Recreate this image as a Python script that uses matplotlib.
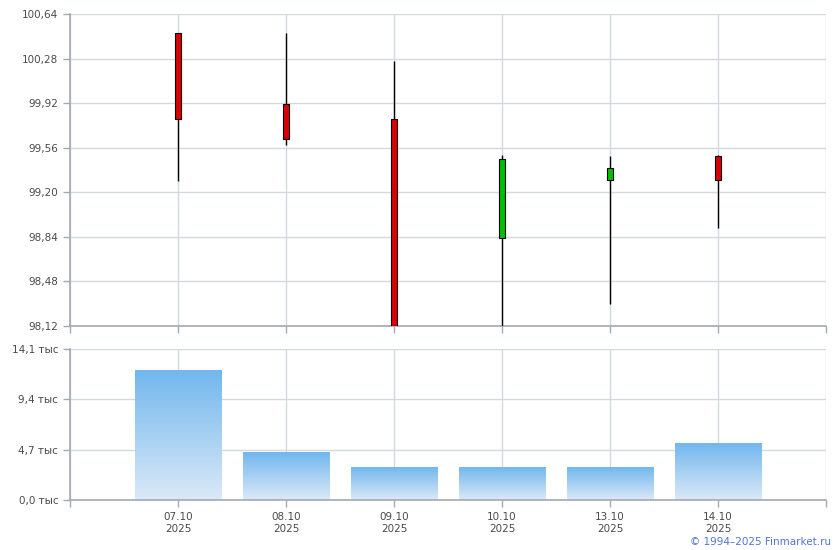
import numpy as np
import matplotlib.pyplot as plt
from matplotlib.patches import Rectangle

# данные (дневные свечи и объём, тыс.)
dates = ["07.10\n2025", "08.10\n2025", "09.10\n2025", "10.10\n2025", "13.10\n2025", "14.10\n2025"]
open_ = [100.49, 99.91, 99.79, 98.83, 99.30, 99.49]
close = [99.79, 99.63, 98.12, 99.47, 99.40, 99.30]
high = [100.49, 100.49, 100.26, 99.50, 99.49, 99.50]
low = [99.29, 99.58, 98.12, 98.12, 98.30, 98.91]
volume = [12.05, 4.48, 2.99, 3.08, 2.99, 5.32]

price_ticks = [98.12, 98.48, 98.84, 99.20, 99.56, 99.92, 100.28, 100.64]
vol_ticks = [0.0, 4.7, 9.4, 14.1]

GRID = "#d3d9df"
SPINE = "#a3a9b1"
TXT = "#4a4a4a"

plt.rcParams['font.family'] = ['DejaVu Sans']
fig = plt.figure(figsize=(8.4, 5.5), dpi=100)
ax1 = fig.add_axes([70 / 840, 1 - 326 / 550, 756 / 840, 312 / 550])
ax2 = fig.add_axes([70 / 840, 1 - 500 / 550, 756 / 840, 151 / 550])

x = np.arange(len(dates))


def style(ax):
    ax.set_xlim(-1, len(dates))
    for s in ["top", "right"]:
        ax.spines[s].set_visible(False)
    for s in ["left", "bottom"]:
        ax.spines[s].set_color(SPINE)
        ax.spines[s].set_linewidth(1.2)
    ax.tick_params(colors=SPINE, labelcolor=TXT, labelsize=7.5, length=5, width=1)
    ax.set_xticks(np.arange(-1, len(dates) + 1))
    ax.grid(True, color=GRID, linewidth=1)
    ax.set_axisbelow(True)


# свечи
style(ax1)
ax1.set_ylim(price_ticks[0], price_ticks[-1])
ax1.set_yticks(price_ticks)
ax1.set_yticklabels([f"{v:.2f}".replace(".", ",") for v in price_ticks])
ax1.set_xticklabels([])
bw = 0.055
for i in x:
    ax1.vlines(i, low[i], high[i], color="black", linewidth=1, zorder=3)
    col = "#dd0000" if close[i] < open_[i] else "#00c000"
    lo, hi = min(open_[i], close[i]), max(open_[i], close[i])
    ax1.add_patch(Rectangle((i - bw / 2, lo), bw, hi - lo, facecolor=col,
                            edgecolor="black", linewidth=0.8, zorder=4))

# объём с градиентом
style(ax2)
ax2.set_ylim(0, vol_ticks[-1])
ax2.set_yticks(vol_ticks)
ax2.set_yticklabels([f"{v:.1f} тыс".replace(".", ",") for v in vol_ticks])
ax2.set_xticklabels([""] + dates + [""], linespacing=1.3)
grad = np.linspace(0, 1, 256).reshape(-1, 1)
from matplotlib.colors import LinearSegmentedColormap
cmap = LinearSegmentedColormap.from_list("vol", ["#dbe9f7", "#72b7ee"])
w = 0.8
for i in x:
    ax2.imshow(grad, cmap=cmap, origin="lower", aspect="auto",
               extent=(i - w / 2, i + w / 2, 0, volume[i]), zorder=2)
ax2.set_xlim(-1, len(dates))
ax2.set_ylim(0, vol_ticks[-1])

fig.text(831 / 840, 1 - 542 / 550, "© 1994–2025 Finmarket.ru", ha="right", va="center",
         color="#4f74d6", fontsize=7.5)

plt.savefig("out.png", dpi=100)
